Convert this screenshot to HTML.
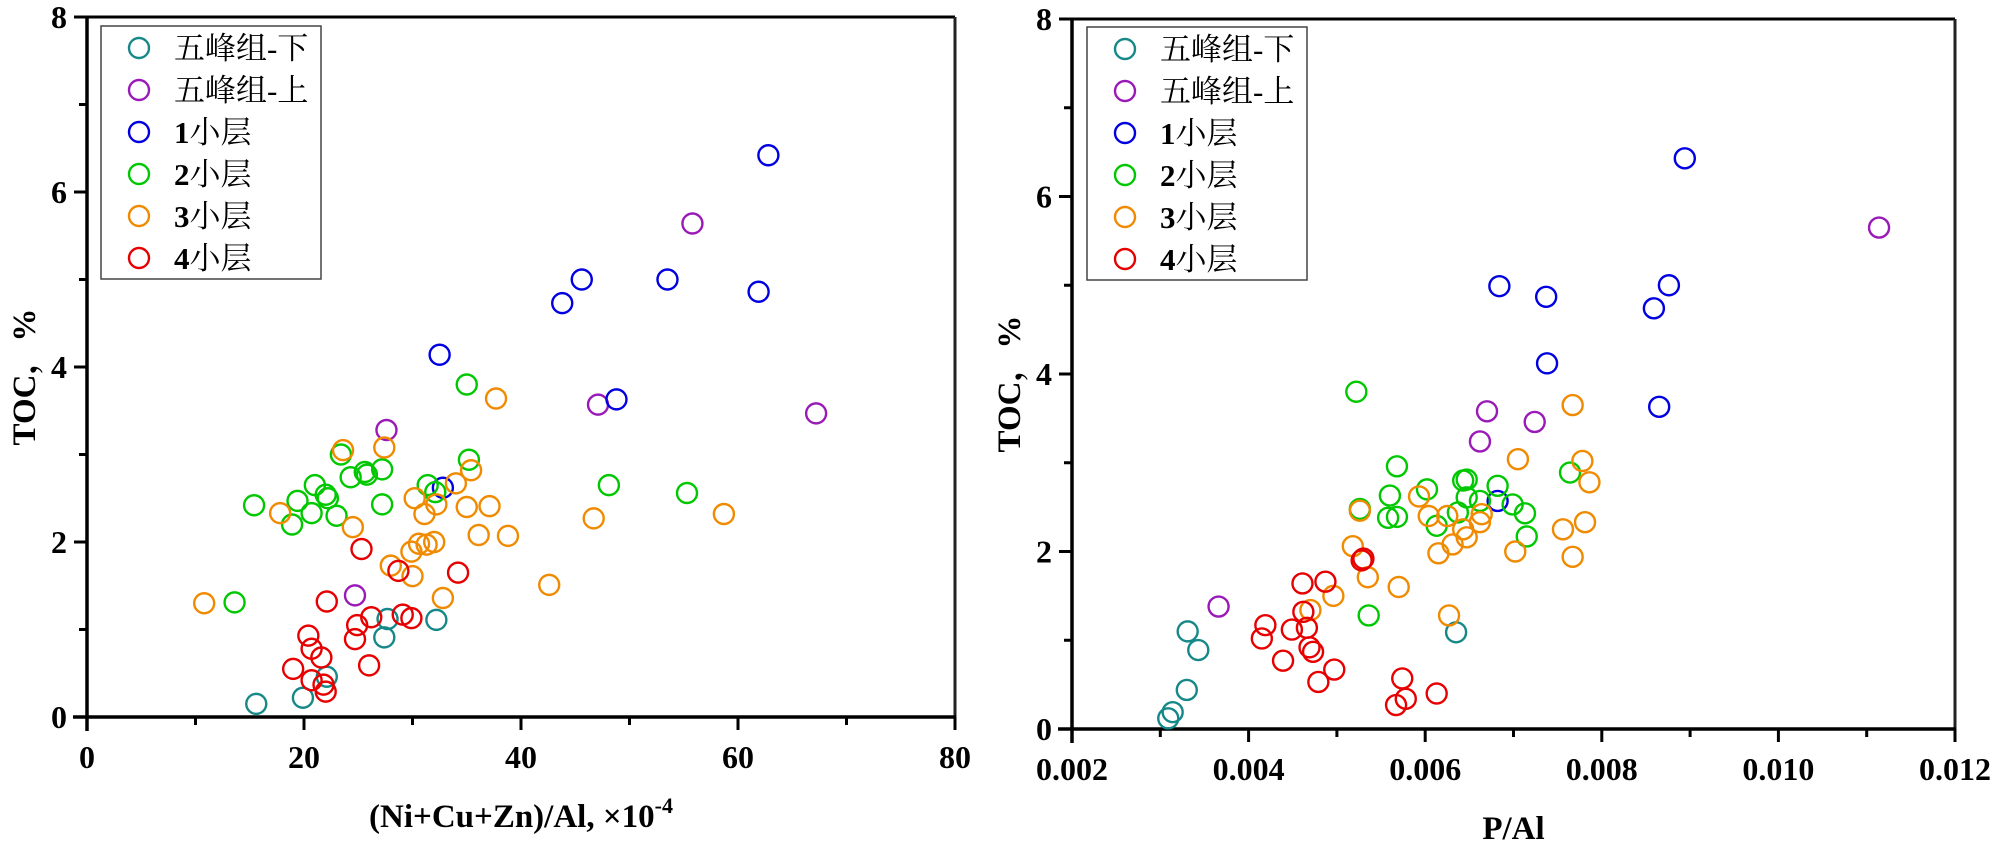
<!DOCTYPE html>
<html><head><meta charset="utf-8"><style>
html,body{margin:0;padding:0;background:#fff;}
svg{display:block;}
.tk{font-family:"Liberation Serif","Noto Serif CJK SC",serif;font-weight:bold;font-size:32px;fill:#000;}
.ttl{font-family:"Liberation Serif","Noto Serif CJK SC",serif;font-weight:bold;font-size:33px;fill:#000;}
.lg{font-family:"Liberation Serif","Noto Serif CJK SC",serif;font-size:31px;fill:#000;}
</style></head><body>
<svg id="chart" width="2000" height="846" viewBox="0 0 2000 846" xmlns="http://www.w3.org/2000/svg"></svg>
<script>
const seriesNames=["五峰组-下","五峰组-上","1小层","2小层","3小层","4小层"];
const seriesColors=["#168888","#9a1ab8","#0000e0","#00c800","#f08a00","#e60000"];
const leftXTicks=[0,20,40,60,80];
const rightXTicks=[0.002,0.004,0.006,0.008,0.010,0.012];
const yTicks=[0,2,4,6,8];
// Left chart: (Ni+Cu+Zn)/Al ×1e-4 vs TOC
const leftTeal=[[15.6,0.15],[19.9,0.22],[22.1,0.46],[27.7,1.12],[27.4,0.91],[32.2,1.11]];
const leftPurple=[[24.7,1.39],[27.6,3.28],[47.1,3.57],[55.8,5.64],[67.2,3.47]];
const leftBlue=[[62.8,6.42],[45.6,5.0],[43.8,4.73],[53.5,5.0],[61.9,4.86],[48.8,3.63],[32.5,4.14],[32.8,2.62]];
const leftGreen=[[13.6,1.31],[15.4,2.42],[19.4,2.47],[18.9,2.2],[20.7,2.33],[21,2.65],[22,2.54],[22.2,2.5],[23,2.3],[23.4,3.0],[24.3,2.74],[25.6,2.8],[25.8,2.77],[27.2,2.83],[27.2,2.43],[31.4,2.65],[32.1,2.57],[35,3.8],[35.2,2.94],[48.1,2.65],[55.3,2.56]];
const leftOrange=[[10.8,1.3],[17.8,2.33],[23.6,3.05],[27.4,3.08],[24.5,2.17],[28,1.73],[30,1.61],[32.8,1.36],[42.6,1.51],[46.7,2.27],[58.7,2.32],[36.1,2.08],[38.8,2.07],[29.9,1.89],[30.6,1.98],[31.3,1.97],[32,2.0],[35,2.4],[37.1,2.41],[30.2,2.5],[32.2,2.43],[34,2.67],[35.4,2.82],[31.1,2.32],[37.7,3.64]];
const leftRed=[[25.3,1.92],[34.2,1.65],[22.1,1.32],[28.7,1.67],[24.9,1.05],[24.7,0.89],[26.2,1.14],[29.1,1.17],[29.9,1.13],[20.4,0.93],[20.7,0.78],[21.6,0.68],[19,0.55],[26,0.59],[20.7,0.42],[21.8,0.37],[22,0.29]];
// Right chart: P/Al vs TOC
const rightTeal=[[0.00309,0.12],[0.00314,0.19],[0.0033,0.44],[0.00331,1.1],[0.00343,0.89],[0.00635,1.09]];
const rightPurple=[[0.00366,1.38],[0.00662,3.24],[0.0067,3.58],[0.00724,3.46],[0.01114,5.65]];
const rightBlue=[[0.00894,6.43],[0.00684,4.99],[0.00737,4.87],[0.00876,5.0],[0.00859,4.74],[0.00738,4.12],[0.00865,3.63],[0.00682,2.57]];
const rightGreen=[[0.00536,1.28],[0.00568,2.96],[0.0056,2.63],[0.00558,2.38],[0.00568,2.39],[0.00526,2.48],[0.00602,2.7],[0.00643,2.8],[0.00647,2.81],[0.00682,2.74],[0.00647,2.61],[0.00662,2.57],[0.00613,2.29],[0.00637,2.44],[0.00699,2.53],[0.00713,2.43],[0.00715,2.17],[0.00764,2.89],[0.00522,3.8]];
const rightOrange=[[0.00526,2.46],[0.00518,2.06],[0.00535,1.71],[0.00496,1.5],[0.0047,1.34],[0.0057,1.6],[0.00627,1.28],[0.00593,2.62],[0.00604,2.4],[0.00625,2.4],[0.00615,1.98],[0.00631,2.08],[0.00643,2.25],[0.00647,2.16],[0.00662,2.33],[0.00664,2.42],[0.00702,2.0],[0.00705,3.04],[0.00756,2.25],[0.00767,1.94],[0.00767,3.65],[0.00778,3.02],[0.00786,2.78],[0.00781,2.33]];
const rightRed=[[0.00461,1.64],[0.00487,1.66],[0.00419,1.17],[0.00415,1.02],[0.00449,1.12],[0.00462,1.32],[0.00466,1.14],[0.00469,0.92],[0.00473,0.87],[0.00439,0.77],[0.00497,0.67],[0.00479,0.53],[0.0053,1.92],[0.00528,1.9],[0.00574,0.57],[0.00578,0.34],[0.00567,0.27],[0.00613,0.4]];

const NS="http://www.w3.org/2000/svg";
const svg=document.getElementById('chart');
function mk(tag,attrs,parent){const e=document.createElementNS(NS,tag);for(const k in attrs)e.setAttribute(k,attrs[k]);(parent||svg).appendChild(e);return e;}

function drawPanel(cfg){
  const g=mk('g',{});
  
  
  const sx=v=>cfg.x0+(v-cfg.xmin)/(cfg.xmax-cfg.xmin)*(cfg.x1-cfg.x0);
  const sy=v=>cfg.y0-(v-0)/8*(cfg.y0-cfg.y1);
  const top=mk('line',{x1:cfg.x0,y1:cfg.y1,x2:cfg.x1,y2:cfg.y1,stroke:'#000','stroke-width':3},g);
  
  const right=mk('line',{x1:cfg.x1,y1:cfg.y1,x2:cfg.x1,y2:cfg.y0,stroke:'#222','stroke-width':3},g);
  
  const xa=mk('line',{x1:cfg.x0-14,y1:cfg.y0,x2:cfg.x1+1,y2:cfg.y0,stroke:'#000','stroke-width':3.5},g);
  
  const ya=mk('line',{x1:cfg.x0,y1:cfg.y1,x2:cfg.x0,y2:cfg.y0+14,stroke:'#000','stroke-width':3.5},g);
  
  const xt=cfg.xTicks;
  xt.forEach((v,i)=>{
    const X=sx(v);
    const t=mk('line',{x1:X,y1:cfg.y0,x2:X,y2:cfg.y0+13,stroke:'#000','stroke-width':3},g);
    
    const lb=mk('text',{x:X,y:cfg.y0+51,'text-anchor':'middle',class:'tk'},g);
    lb.textContent=cfg.xFmt(v);
    
    if(i<xt.length-1){
      const m=sx((v+xt[i+1])/2);
      const mt=mk('line',{x1:m,y1:cfg.y0,x2:m,y2:cfg.y0+8,stroke:'#000','stroke-width':3},g);
      
    }
  });
  yTicks.forEach((v,i)=>{
    const Y=sy(v);
    const t=mk('line',{x1:cfg.x0-13,y1:Y,x2:cfg.x0,y2:Y,stroke:'#000','stroke-width':3},g);
    
    const lb=mk('text',{x:cfg.x0-20,y:Y+11,'text-anchor':'end',class:'tk'},g);
    lb.textContent=String(v);
    
    if(i<yTicks.length-1){
      const m=sy(v+1);
      const mt=mk('line',{x1:cfg.x0-8,y1:m,x2:cfg.x0,y2:m,stroke:'#000','stroke-width':3},g);
      
    }
  });
  const yt=mk('text',{x:0,y:0,'text-anchor':'middle',class:'ttl',transform:`translate(${cfg.x0-52},${(cfg.y0+cfg.y1)/2+10}) rotate(-90)`},g);
  yt.textContent='TOC，%';
  
  const xtl=mk('text',{x:(cfg.x0+cfg.x1)/2,y:cfg.y0+110,'text-anchor':'middle',class:'ttl'},g);
  
  if(cfg.sup){
    xtl.textContent=cfg.xTitle;
    const sp=mk('tspan',{dy:-14,'font-size':22},xtl);sp.textContent=cfg.sup;
  } else xtl.textContent=cfg.xTitle;
  cfg.series.forEach((pts,si)=>{
    const sg=mk('g',{},g);
    
    
    pts.forEach(p=>{
      const c=mk('circle',{cx:sx(p[0]),cy:sy(p[1]),r:10,fill:'none',stroke:seriesColors[si],'stroke-width':2.4},sg);
      
      
    });
  });
  const lgd=mk('g',{},g);
  
  const bx=cfg.legX, by=cfg.legY;
  mk('rect',{x:bx,y:by,width:220,height:253,fill:'#fff',stroke:'#444','stroke-width':1.5},lgd);
  seriesNames.forEach((n,i)=>{
    const ry=by+22+i*42;
    const e=mk('g',{},lgd);
    
    mk('circle',{cx:bx+38,cy:ry,r:10,fill:'none',stroke:seriesColors[i],'stroke-width':2.4},e);
    const t=mk('text',{x:bx+73,y:ry+11,class:'lg'},e);
    if(i>=2){
      const b=mk('tspan',{'font-weight':'bold'},t);b.textContent=n[0];
      const r=mk('tspan',{},t);r.textContent=n.slice(1);
    } else t.textContent=n;
  });
}
drawPanel({name:'left-panel',x0:87,x1:955,y0:717,y1:17,xmin:0,xmax:80,xTicks:leftXTicks,xFmt:v=>String(v),
  xTitle:'(Ni+Cu+Zn)/Al, ×10',sup:'-4',legX:101,legY:26,
  series:[leftTeal,leftPurple,leftBlue,leftGreen,leftOrange,leftRed]});
drawPanel({name:'right-panel',x0:1072,x1:1955,y0:729,y1:19,xmin:0.002,xmax:0.012,xTicks:rightXTicks,xFmt:v=>v.toFixed(3),
  xTitle:'P/Al',sup:null,legX:1087,legY:27,
  series:[rightTeal,rightPurple,rightBlue,rightGreen,rightOrange,rightRed]});
</script>
</body></html>
